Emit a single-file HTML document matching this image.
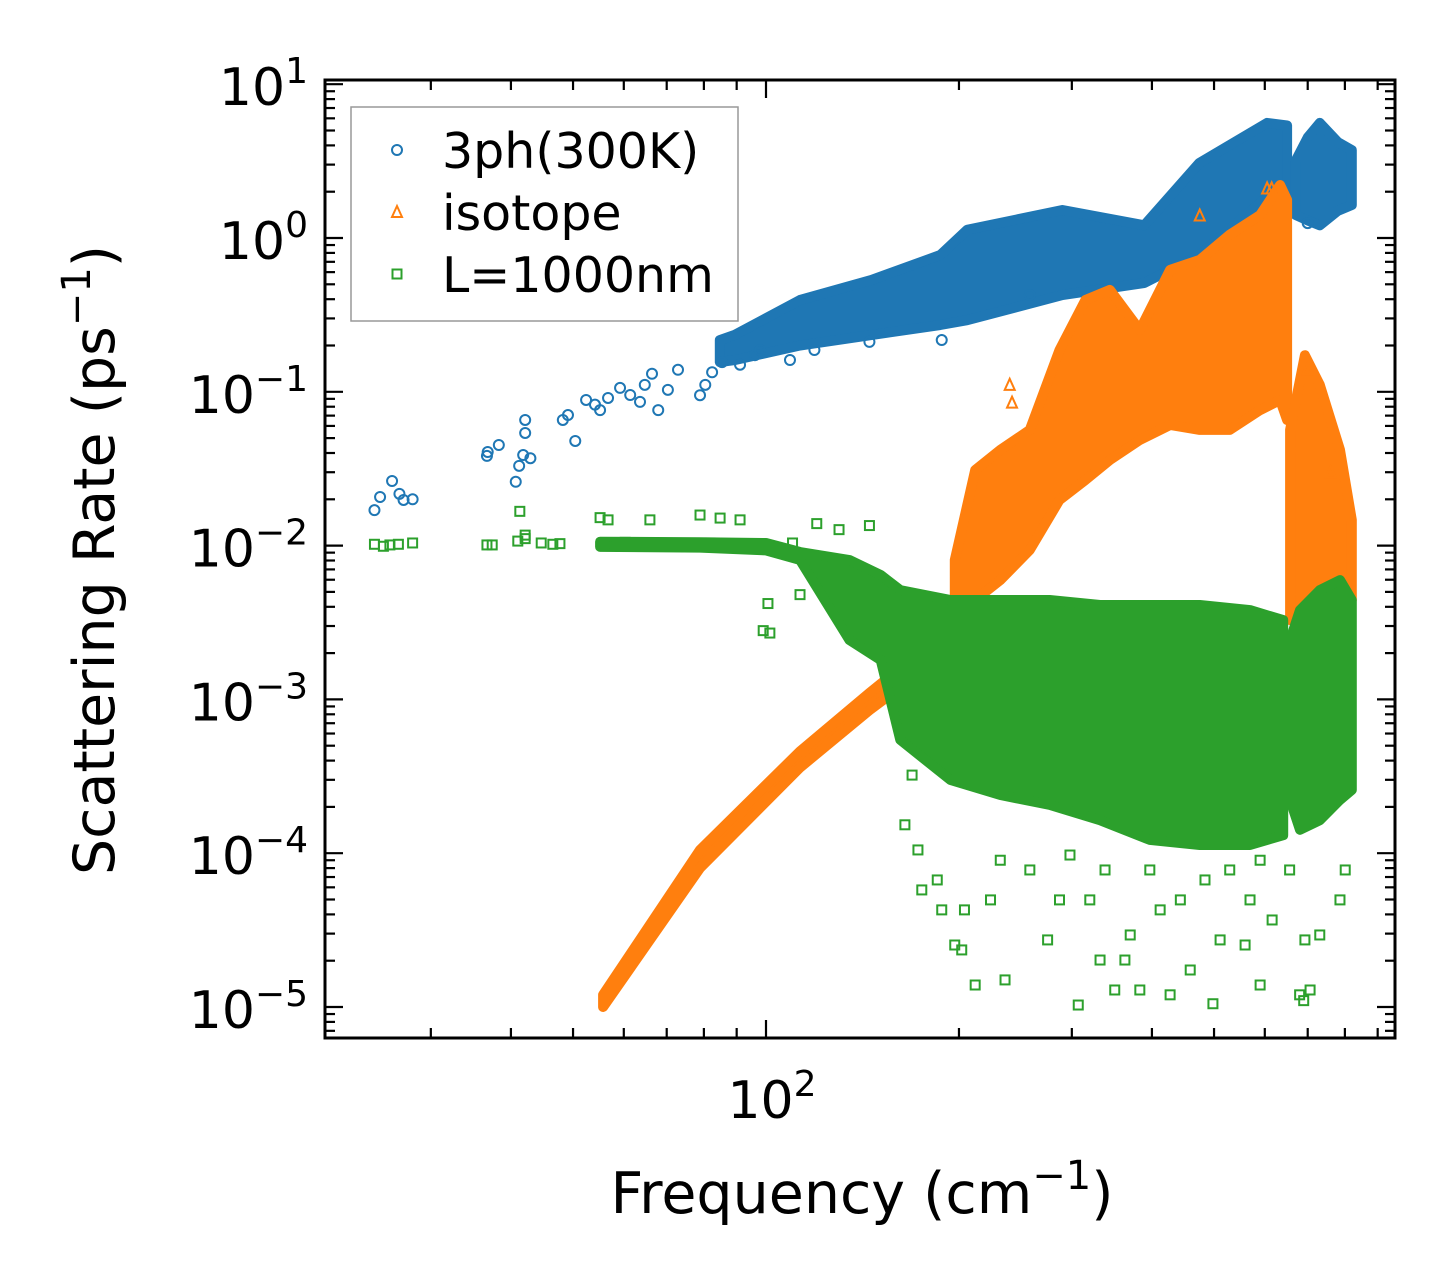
<!DOCTYPE html>
<html><head><meta charset="utf-8">
<style>
html,body{margin:0;padding:0;background:#fff;}
svg{display:block;font-family:"DejaVu Sans","Liberation Sans",sans-serif;}
</style></head>
<body>
<svg id="chart" width="1455" height="1288" viewBox="0 0 1455 1288" xmlns="http://www.w3.org/2000/svg">
<rect width="1455" height="1288" fill="#fff"/>
<g id="marks"></g>
<g id="axes"></g>
</svg>
<script>
// ---- data (frequency cm^-1, rate ps^-1) ----
const blueFreq = [24.5,25.0,26.1,26.8,27.2,28.1,36.7,36.8,38.3,40.7,41.2,41.8,42.1,42.1,42.9,48.2,49.1,50.4,52.4,54.1,55.1,56.7,59.2,61.4,63.6,64.7,66.4,67.9,70.3,72.9,78.9,80.4,82.4,85.4,91.1,96.1,97.9,109,119,145,188,258,620,700];
const blueRate = [0.017,0.0207,0.0263,0.0217,0.0198,0.020,0.0383,0.0406,0.0451,0.026,0.033,0.0388,0.054,0.0656,0.037,0.0656,0.0706,0.0479,0.0885,0.0825,0.076,0.0912,0.106,0.0953,0.086,0.111,0.131,0.076,0.103,0.139,0.095,0.111,0.134,0.156,0.15,0.173,0.187,0.161,0.187,0.211,0.217,0.426,1.3,1.25];
const blueBandFreq = [84.7,89.5,113,146,187,206,290,389,474,605,650];
const blueBandHigh = [0.217,0.235,0.395,0.533,0.775,1.13,1.52,1.21,3.07,5.6,5.4];
const blueBandLow  = [0.156,0.161,0.2,0.234,0.272,0.292,0.426,0.51,0.775,1.85,1.41];
const blueBand2Freq = [671,700,731,780,820];
const blueBand2High = [3.2,4.5,5.6,4.2,3.73];
const blueBand2Low  = [1.41,1.3,1.21,1.5,1.64];

const isoLineFreq = [55.7,78.9,113,145,162];
const isoLineHigh = [1.2e-5,1.05e-4,4.6e-4,1.1e-3,1.6e-3];
const isoLineLow  = [1.0e-5,8.0e-5,3.6e-4,8.5e-4,1.2e-3];
const isoBandFreq = [197,212,232,258,287,315,344,383,427,475,529,590,634,650];
const isoBandHigh = [0.00806,0.031,0.0419,0.0565,0.187,0.395,0.46,0.252,0.62,0.72,1.05,1.41,2.21,1.77];
const isoBandLow  = [0.00328,0.00443,0.00597,0.00936,0.0198,0.0267,0.036,0.0486,0.0608,0.0565,0.0565,0.076,0.0885,0.0656];
const isoBand2Freq = [657,693,731,786,820];
const isoBand2High = [0.0565,0.173,0.111,0.0419,0.0147];
const isoBand2Low  = [0.00328,0.00381,0.00514,0.00597,0.00443];
const isoFreq = [240,242,475,605,615,700,760];
const isoRate = [0.111,0.085,1.4,2.1,2.1,0.14,0.03];

const lenFreq = [24.5,25.3,25.9,26.7,28.1,36.7,37.4,41.0,41.3,42.1,42.1,44.6,46.5,47.7,55.1,56.7,56.7,58.1,60.3,65.9,68.3,78.9,81.8,84.8,91.1,97.9,100.7,101.4,99,110,120,130,113,145,
 164.7,169,172.6,175,185,188,197,202,204,212,224,232,236,258,275,287,298,307,320,332,338,350,363,370,383,397,412,427,443,459,484,498,511,529,559,569,590,616,656,693,706,731,786,801,590,680,690];
const lenRate = [0.0102,0.0099,0.0101,0.0102,0.0104,0.0101,0.0101,0.0107,0.0167,0.0111,0.0117,0.0104,0.0102,0.0103,0.0152,0.0147,0.0101,0.0103,0.0105,0.0147,0.0101,0.0158,0.0104,0.0151,0.0147,0.0102,0.0042,0.0027,0.0028,0.0104,0.0139,0.0127,0.0048,0.0135,
 1.53e-4,3.22e-4,1.05e-4,5.77e-5,6.7e-5,4.28e-5,2.53e-5,2.35e-5,4.28e-5,1.39e-5,4.97e-5,9.0e-5,1.5e-5,7.78e-5,2.73e-5,4.97e-5,9.73e-5,1.03e-5,4.97e-5,2.02e-5,7.78e-5,1.29e-5,2.02e-5,2.94e-5,1.29e-5,7.78e-5,4.28e-5,1.2e-5,4.97e-5,1.74e-5,6.7e-5,1.05e-5,2.73e-5,7.78e-5,2.53e-5,4.97e-5,9.0e-5,3.68e-5,7.78e-5,2.73e-5,1.29e-5,2.94e-5,4.97e-5,7.78e-5,1.39e-5,1.2e-5,1.1e-5];
const lenBandFreq = [55.1,78.9,100,113,135,151,162,194,232,277,332,397,475,569,641];
const lenBandHigh = [0.0106,0.0105,0.0104,0.00909,0.00806,0.00644,0.00514,0.00443,0.00443,0.00443,0.00411,0.00411,0.00411,0.00381,0.00328];
const lenBandLow  = [0.0098,0.0097,0.0093,0.00806,0.00243,0.0018,5.45e-4,2.99e-4,2.39e-4,2.06e-4,1.64e-4,1.22e-4,1.13e-4,1.13e-4,1.31e-4];
const lenBand2Freq = [657,681,731,786,820];
const lenBand2High = [0.00243,0.00381,0.00514,0.00597,0.00443];
const lenBand2Low  = [2.22e-4,1.42e-4,1.64e-4,2.22e-4,2.58e-4];

const xTickVals = [100];
const yTickExps = [1,0,-1,-2,-3,-4,-5];

// ---- axes ----
const L=325,R=1395,T=80,B=1038;
const X = f => 766 + 641*(Math.log10(f)-2);
const Y = r => 238 - 153.8*Math.log10(r);
const NS="http://www.w3.org/2000/svg";
const marks=document.getElementById('marks');
const axes=document.getElementById('axes');
function mk(tag,attrs,parent){const e=document.createElementNS(NS,tag);for(const k in attrs)e.setAttribute(k,attrs[k]);parent.appendChild(e);return e;}

const BLUE="#1f77b4",ORANGE="#ff7f0e",GREEN="#2ca02c";
function band(fr,hi,lo,color,name){
  let pts=[];
  for(let i=0;i<fr.length;i++)pts.push(X(fr[i]).toFixed(1)+","+Y(hi[i]).toFixed(1));
  for(let i=fr.length-1;i>=0;i--)pts.push(X(fr[i]).toFixed(1)+","+Y(lo[i]).toFixed(1));
  const p=mk('polygon',{points:pts.join(' '),fill:color,stroke:color,'stroke-width':10,'stroke-linejoin':'round'},marks);
  
  
}
function circ(x,y,c,parent){return mk('circle',{cx:x,cy:y,r:5,fill:'none',stroke:c,'stroke-width':2},parent);}
function tri(x,y,c,parent){return mk('polygon',{points:`${x},${y-6} ${x-5},${y+5} ${x+5},${y+5}`,fill:'none',stroke:c,'stroke-width':2},parent);}
function sq(x,y,c,parent){return mk('rect',{x:x-4.5,y:y-4.5,width:9,height:9,fill:'none',stroke:c,'stroke-width':2},parent);}

// blue
band(blueBandFreq,blueBandHigh,blueBandLow,BLUE,'3ph-dense-band');
band(blueBand2Freq,blueBand2High,blueBand2Low,BLUE,'3ph-dense-band-high');
for(let i=0;i<blueFreq.length;i++){
  const e=circ(X(blueFreq[i]),Y(blueRate[i]),BLUE,marks);
  
  
}
// orange
band(isoLineFreq,isoLineHigh,isoLineLow,ORANGE,'isotope-low-band');
band(isoBandFreq,isoBandHigh,isoBandLow,ORANGE,'isotope-dense-band');
band(isoBand2Freq,isoBand2High,isoBand2Low,ORANGE,'isotope-dense-band-high');
for(let i=0;i<isoFreq.length;i++){
  const e=tri(X(isoFreq[i]),Y(isoRate[i]),ORANGE,marks);
  
  
}
// green
band(lenBandFreq,lenBandHigh,lenBandLow,GREEN,'boundary-dense-band');
band(lenBand2Freq,lenBand2High,lenBand2Low,GREEN,'boundary-dense-band-high');
for(let i=0;i<lenFreq.length;i++){
  const e=sq(X(lenFreq[i]),Y(lenRate[i]),GREEN,marks);
  
  
}

// frame
const fr=mk('rect',{x:L,y:T,width:R-L,height:B-T,fill:'none',stroke:'#000','stroke-width':3},axes);


// x ticks
for(let d=1;d<=2;d++){for(let m=1;m<=9;m++){
  const v=m*Math.pow(10,d);const x=X(v);if(x<L+1||x>R-1)continue;
  const len=m===1?18:10;
  mk('line',{x1:x,y1:B,x2:x,y2:B-len,stroke:'#000','stroke-width':2.2},axes);
  mk('line',{x1:x,y1:T,x2:x,y2:T+len,stroke:'#000','stroke-width':2.2},axes);
}}
xTickVals.forEach(v=>{
  const t=mk('text',{x:X(v)+6,y:1118,'font-size':52,'text-anchor':'middle'},axes);
  
  
  t.innerHTML='10<tspan dy="-22" font-size="36">'+Math.round(Math.log10(v))+'</tspan>';
});
// y ticks
for(let d=-6;d<=1;d++){for(let m=1;m<=9;m++){
  const v=m*Math.pow(10,d);const y=Y(v);if(y<T+1||y>B-1)continue;
  const len=m===1?18:10;
  mk('line',{x1:L,y1:y,x2:L+len,y2:y,stroke:'#000','stroke-width':2.2},axes);
  mk('line',{x1:R,y1:y,x2:R-len,y2:y,stroke:'#000','stroke-width':2.2},axes);
}}
yTickExps.forEach(e=>{
  const y=Y(Math.pow(10,e));
  const t=mk('text',{x:308,y:y+21,'font-size':52,'text-anchor':'end'},axes);
  
  
  t.innerHTML='10<tspan dy="-22" font-size="36">'+(e<0?'\u2212'+(-e):e)+'</tspan>';
});
// titles
const xt=mk('text',{x:862,y:1213,'font-size':57,'text-anchor':'middle'},axes);


xt.innerHTML='Frequency (cm<tspan dy="-24" font-size="40">\u22121</tspan><tspan dy="24">)</tspan>';
const yt=mk('text',{x:0,y:0,'font-size':57,'text-anchor':'middle',transform:'translate(114,560) rotate(-90)'},axes);


yt.innerHTML='Scattering Rate (ps<tspan dy="-24" font-size="40">\u22121</tspan><tspan dy="24">)</tspan>';

// legend
const lg=mk('g',{},axes);


mk('rect',{x:351,y:107,width:387,height:214,fill:'#fff','fill-opacity':0.8,stroke:'#999','stroke-width':1.5},lg);
const entries=[['3ph(300K)',BLUE,circ,150],['isotope',ORANGE,tri,212],['L=1000nm',GREEN,sq,274]];
entries.forEach(en=>{
  const g=mk('g',{},lg);
  
  
  en[2](397,en[3],en[1],g);
  const t=mk('text',{x:442,y:en[3]+18,'font-size':49},g);
  t.textContent=en[0];
});
</script>
</body></html>
